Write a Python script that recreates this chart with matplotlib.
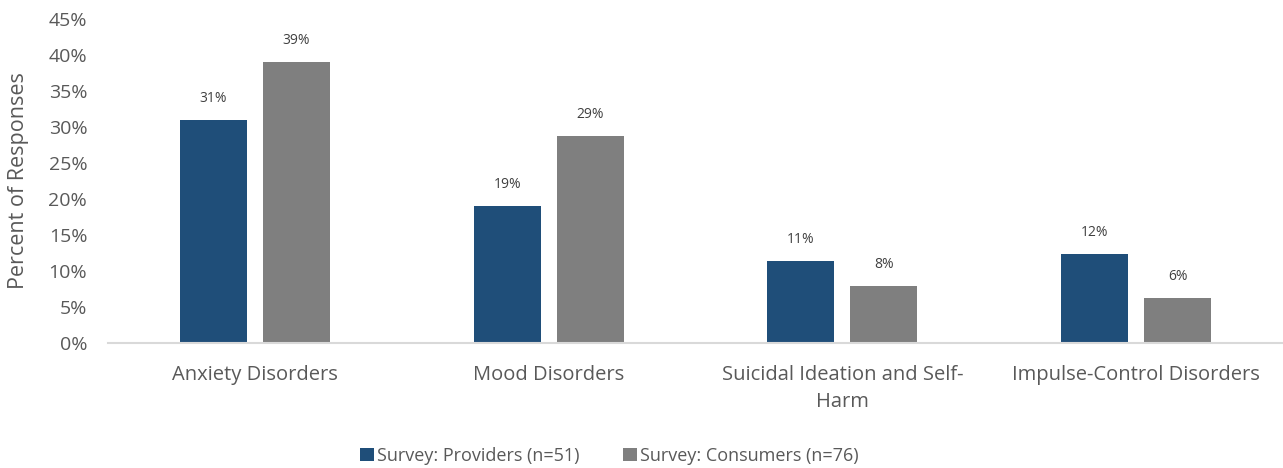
import numpy as np
import matplotlib.pyplot as plt

categories = ["Anxiety Disorders", "Mood Disorders",
              "Suicidal Ideation and Self-\nHarm", "Impulse-Control Disorders"]
providers = [31.0, 19.0, 11.4, 12.4]
consumers = [39.0, 28.7, 7.9, 6.2]
provider_labels = ["31%", "19%", "11%", "12%"]
consumer_labels = ["39%", "29%", "8%", "6%"]
yticks = [0, 5, 10, 15, 20, 25, 30, 35, 40, 45]

plt.rcParams['font.family'] = ['Open Sans', 'DejaVu Sans']
text_col = "#595959"

fig = plt.figure(figsize=(12.83, 4.68), dpi=100)
ax = fig.add_axes([0.0842, 0.267, 0.9158, 0.693])

x = np.arange(len(categories))
w = 0.228
off = w / 2 + 0.027
b1 = ax.bar(x - off, providers, w, color="#1F4E79", label="Survey: Providers (n=51)")
b2 = ax.bar(x + off, consumers, w, color="#7F7F7F", label="Survey: Consumers (n=76)")

# value labels above each bar
for bars, labs in ((b1, provider_labels), (b2, consumer_labels)):
    for b, t in zip(bars, labs):
        ax.annotate(t, (b.get_x() + b.get_width() / 2, b.get_height()),
                    xytext=(0, 10), textcoords="offset points",
                    ha="center", va="bottom", fontsize=10, color="#404040")

ax.set_xlim(-0.5, len(categories) - 0.5)
ax.set_ylim(0, 45)
ax.set_yticks(yticks)
ax.set_yticklabels([f"{v}%" for v in yticks], fontsize=14, color=text_col)
ax.set_xticks(x)
ax.set_xticklabels(categories, fontsize=14.5, color=text_col, linespacing=1.45)
ax.tick_params(length=0)
ax.tick_params(axis="x", pad=16)
ax.tick_params(axis="y", pad=15)
ax.set_ylabel("Percent of Responses", fontsize=15.5, color=text_col, labelpad=14)

for s in ["top", "right", "left"]:
    ax.spines[s].set_visible(False)
ax.spines["bottom"].set_color("#D9D9D9")
ax.spines["bottom"].set_linewidth(1.5)

fig.legend(loc="lower center", bbox_to_anchor=(0.475, -0.028), ncol=2, frameon=False,
           fontsize=13, handlelength=0.8, handleheight=0.8, handletextpad=0.15,
           columnspacing=2.4, labelcolor=text_col)

fig.savefig("out.png", dpi=100)
